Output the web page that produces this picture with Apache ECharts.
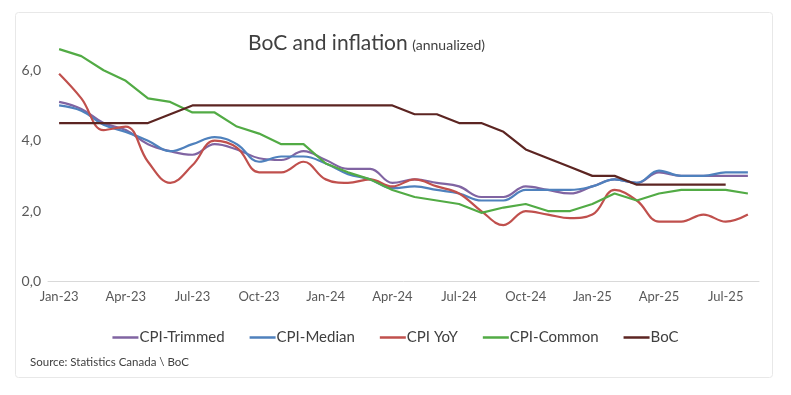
<!DOCTYPE html>
<html>
<head>
<meta charset="utf-8">
<script src="https://cdn.jsdelivr.net/npm/echarts@6/dist/echarts.min.js"></script>
<style>
html,body{margin:0;padding:0;background:#fff;}
#chart{width:791px;height:395px;}
</style>
</head>
<body>
<div id="chart"></div>
<script>
const categories = ["Jan-23","Feb-23","Mar-23","Apr-23","May-23","Jun-23","Jul-23","Aug-23","Sep-23","Oct-23","Nov-23","Dec-23",
  "Jan-24","Feb-24","Mar-24","Apr-24","May-24","Jun-24","Jul-24","Aug-24","Sep-24","Oct-24","Nov-24","Dec-24",
  "Jan-25","Feb-25","Mar-25","Apr-25","May-25","Jun-25","Jul-25","Aug-25"];
const cpiTrimmed = [5.1,4.9,4.5,4.3,3.9,3.7,3.6,3.9,3.75,3.5,3.45,3.7, 3.45,3.2,3.2,2.8,2.9,2.8,2.7,2.4,2.4,2.7,2.6,2.5, 2.7,2.9,2.8,3.1,3.0,3.0,3.0,3.0];
const cpiMedian = [5.0,4.85,4.45,4.25,4.0,3.7,3.9,4.1,3.9,3.4,3.55,3.55, 3.35,3.05,2.9,2.65,2.7,2.6,2.5,2.3,2.3,2.6,2.6,2.6, 2.7,2.9,2.8,3.15,3.0,3.0,3.1,3.1];
const cpiYoY = [5.9,5.2,4.3,4.4,3.4,2.8,3.3,4.0,3.8,3.1,3.1,3.4, 2.9,2.8,2.9,2.7,2.9,2.7,2.5,2.0,1.6,2.0,1.9,1.8, 1.9,2.6,2.3,1.7,1.7,1.9,1.7,1.9];
const cpiCommon = [6.6,6.4,6.0,5.7,5.2,5.1,4.8,4.8,4.4,4.2,3.9,3.9, 3.35,3.1,2.9,2.6,2.4,2.3,2.2,1.95,2.1,2.2,2.0,2.0, 2.2,2.5,2.3,2.5,2.6,2.6,2.6,2.5];
const boc = [4.5,4.5,4.5,4.5,4.5,4.75,5,5,5,5,5,5, 5,5,5,5,4.75,4.75,4.5,4.5,4.25,3.75,3.5,3.25, 3.0,3.0,2.75,2.75,2.75,2.75,2.75,null];
const yTicks = [0,2,4,6];

const FONT = 'Lato';
const chart = echarts.init(document.getElementById('chart'), null, {renderer:'canvas'});
function line(name, data, color, smooth){
  return {name, type:'line', data, smooth: smooth ? 0.4 : false, symbol:'none',
    lineStyle:{color, width:2.2}, itemStyle:{color}, connectNulls:false, z: 2};
}
chart.setOption({
  animation:false,
  backgroundColor:'#fff',
  textStyle:{fontFamily:FONT},
  title:{
    text:'{a|BoC and inflation} {b|(annualized)}',
    left:243, top:28,
    textStyle:{fontWeight:'normal', rich:{
      a:{fontFamily:FONT,fontSize:21,fontWeight:'normal',color:'#404040'},
      b:{fontFamily:FONT,fontSize:14,fontWeight:'normal',color:'#404040',padding:[4,0,0,0]}
    }}
  },
  grid:{left:48,right:32,top:35,bottom:113.5,containLabel:false},
  xAxis:{
    type:'category', data:categories, boundaryGap:true,
    axisLine:{lineStyle:{color:'#D9D9D9',width:1}},
    axisTick:{interval:2,length:5,lineStyle:{color:'#D9D9D9'}},
    axisLabel:{interval:2,color:'#595959',fontSize:13,fontFamily:FONT,margin:9}
  },
  yAxis:{
    type:'value', min:0, max:7, interval:2,
    splitLine:{show:false},
    axisLine:{show:false}, axisTick:{show:false},
    axisLabel:{color:'#595959',fontSize:14,fontFamily:FONT,margin:7,
      formatter:v=> yTicks.includes(v) ? v.toFixed(1).replace('.',',') : ''}
  },
  legend:{
    top:325, left:'center',
    icon:'rect', itemWidth:26, itemHeight:2.5, itemGap:25,
    textStyle:{color:'#404040',fontSize:15,fontFamily:FONT,padding:[0,0,0,-4]},
    data:['CPI-Trimmed','CPI-Median','CPI YoY','CPI-Common','BoC']
  },
  graphic:[
    {type:'rect', z:-1, shape:{x:15.5,y:12.5,width:757,height:365,r:3},
      style:{fill:'none',stroke:'#E8E8E8',lineWidth:1}},
    {type:'text', left:30, top:356, style:{text:'Source: Statistics Canada \\ BoC',
      fill:'#404040', font:'11.5px '+FONT}}
  ],
  series:[
    line('CPI-Trimmed', cpiTrimmed, '#8064A2', true),
    line('CPI-Median', cpiMedian, '#4F81BD', true),
    line('CPI YoY', cpiYoY, '#C0504D', true),
    line('CPI-Common', cpiCommon, '#52AB45', false),
    line('BoC', boc, '#5C2522', false)
  ]
});
</script>
</body>
</html>
